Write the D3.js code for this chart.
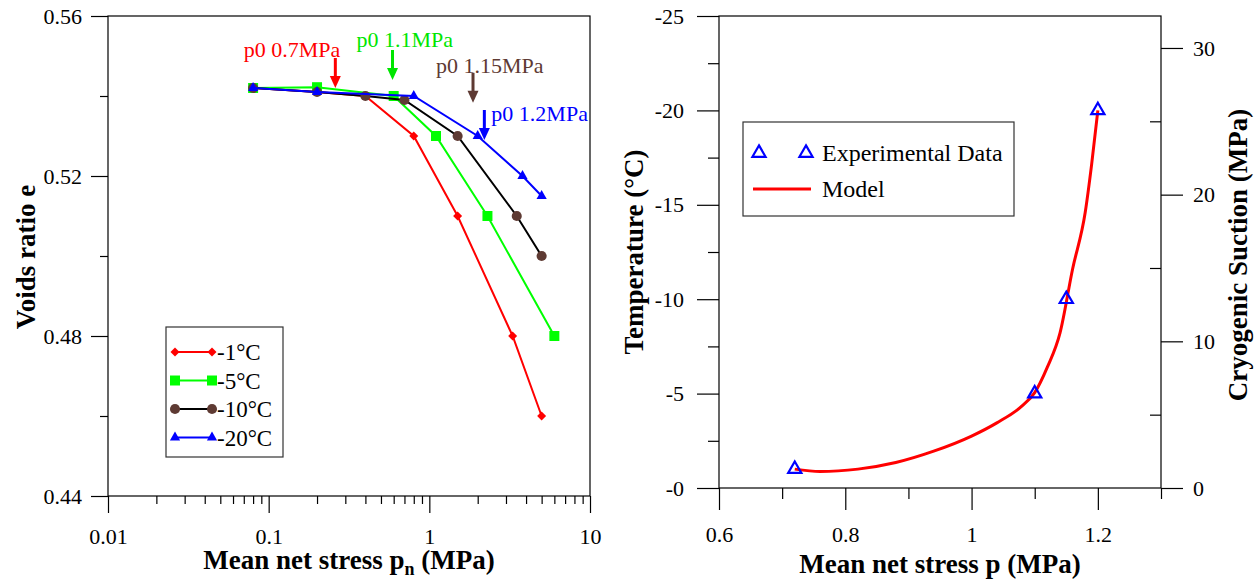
<!DOCTYPE html>
<html>
<head>
<meta charset="utf-8">
<script src="https://cdn.jsdelivr.net/npm/d3@7"></script>
<style>
  body { margin: 0; background: #fff; }
  svg text { font-family: "Liberation Serif", "Times New Roman", serif; }
</style>
</head>
<body>
<script>
// ---- left chart data: void ratio vs mean net stress ----
const series = ["-1°C", "-5°C", "-10°C", "-20°C"];
const p_m1 = [0.08, 0.2, 0.4, 0.8, 1.5, 3.3, 5];
const e_m1 = [0.542, 0.541, 0.540, 0.530, 0.510, 0.480, 0.460];
const p_m5 = [0.08, 0.2, 0.6, 1.1, 2.3, 6];
const e_m5 = [0.542, 0.5422, 0.540, 0.530, 0.510, 0.480];
const p_m10 = [0.08, 0.2, 0.4, 0.7, 1.5, 3.5, 5];
const e_m10 = [0.542, 0.541, 0.540, 0.539, 0.530, 0.510, 0.500];
const p_m20 = [0.08, 0.2, 0.8, 2, 3.8, 5];
const e_m20 = [0.542, 0.541, 0.540, 0.530, 0.520, 0.515];

// p0 annotations (arrow tip in data units)
const annotText = ["p0 0.7MPa", "p0 1.1MPa", "p0 1.15MPa", "p0 1.2MPa"];
const arrowP = [0.26, 0.59, 1.87, 2.2];
const arrowE = [0.542, 0.544, 0.5383, 0.529];

const xTicksL = [0.01, 0.1, 1, 10];
const xLabelsL = ["0.01", "0.1", "1", "10"];
const yTicksL = [0.44, 0.48, 0.52, 0.56];
const yLabelsL = ["0.44", "0.48", "0.52", "0.56"];

// ---- right chart data: temperature vs p0 ----
const expP = [0.72, 1.1, 1.15, 1.2];
const expT = [-1, -5, -10, -20];
const modelP = [0.72, 0.76, 0.82, 0.88, 0.94, 1.00, 1.04, 1.08, 1.10, 1.12, 1.14, 1.16, 1.18, 1.19, 1.20];
const modelT = [-1.0, -0.87, -1.0, -1.35, -1.95, -2.75, -3.45, -4.35, -5.05, -6.4, -8.2, -11.6, -14.6, -17.1, -20.0];

const xTicksR = [0.6, 0.8, 1.0, 1.2];
const xLabelsR = ["0.6", "0.8", "1", "1.2"];
const xMinorR = [0.7, 0.9, 1.1, 1.3];
const tTicks = [0, -5, -10, -15, -20, -25];
const tLabels = ["-0", "-5", "-10", "-15", "-20", "-25"];
const tMinor = [-2.5, -7.5, -12.5, -17.5, -22.5];
const sTicks = [0, 10, 20, 30];
const sLabels = ["0", "10", "20", "30"];
const sMinor = [5, 15, 25];

const FONT = '"Liberation Serif", "Times New Roman", serif';

const svg = d3.select("body").append("svg")
    .attr("width", 1260)
    .attr("height", 582)
    .attr("font-family", FONT);

function styleAxis(g, fontSize) {
    g.attr("font-family", FONT);
    g.select(".domain").remove();
    g.selectAll("line").attr("stroke", "#000").attr("stroke-width", 1.2);
    g.selectAll("text").attr("fill", "#000")
        .style("font-family", FONT)
        .style("font-size", fontSize + "px");
}

// ================= LEFT CHART =================
const xL = d3.scaleLog().domain([0.01, 10]).range([108, 590]);
const yL = d3.scaleLinear().domain([0.44, 0.56]).range([496, 16]);

let minorXL = [];
[0.01, 0.1, 1].forEach(function (dec) {
    for (let k = 2; k <= 9; k++) minorXL.push(dec * k);
});

svg.append("g").attr("transform", "translate(0,496)")
    .call(d3.axisBottom(xL).tickValues(xTicksL).tickFormat((d, i) => xLabelsL[i]).tickSize(17).tickPadding(15))
    .call(g => styleAxis(g, 22));
svg.append("g").attr("transform", "translate(0,496)")
    .call(d3.axisBottom(xL).tickValues(minorXL).tickFormat("").tickSize(8))
    .call(g => styleAxis(g, 22));
svg.append("g").attr("transform", "translate(108,0)")
    .call(d3.axisLeft(yL).tickValues(yTicksL).tickFormat((d, i) => yLabelsL[i]).tickSize(17).tickPadding(9))
    .call(g => styleAxis(g, 22));
svg.append("g").attr("transform", "translate(108,0)")
    .call(d3.axisLeft(yL).tickValues([0.46, 0.50, 0.54]).tickFormat("").tickSize(8))
    .call(g => styleAxis(g, 22));

svg.append("rect")
    .attr("x", xL.range()[0]).attr("y", yL.range()[1])
    .attr("width", xL.range()[1] - xL.range()[0])
    .attr("height", yL.range()[0] - yL.range()[1])
    .attr("fill", "none").attr("stroke", "#000").attr("stroke-width", 1.2);

// custom diamond symbol (rotated square look)
const diamondSym = {
    draw: function (ctx, size) {
        const r = Math.sqrt(size / 2);
        ctx.moveTo(0, -r); ctx.lineTo(r, 0); ctx.lineTo(0, r); ctx.lineTo(-r, 0); ctx.closePath();
    }
};

const seriesStyle = [
    { p: p_m1, e: e_m1, line: "#ff0000", mark: "#ff0000", sym: diamondSym, size: 40 },
    { p: p_m5, e: e_m5, line: "#00ff00", mark: "#00ff00", sym: d3.symbolSquare, size: 100 },
    { p: p_m10, e: e_m10, line: "#000000", mark: "#5e3a33", sym: d3.symbolCircle, size: 80 },
    { p: p_m20, e: e_m20, line: "#0000ff", mark: "#0000ff", sym: d3.symbolTriangle, size: 45 }
];

const lineL = d3.line().x(d => xL(d[0])).y(d => yL(d[1]));

seriesStyle.forEach(function (s) {
    const pts = s.p.map((v, i) => [v, s.e[i]]);
    svg.append("path")
        .attr("d", lineL(pts))
        .attr("fill", "none")
        .attr("stroke", s.line)
        .attr("stroke-width", 2);
    svg.selectAll(null)
        .data(pts)
        .enter()
        .append("path")
        .attr("transform", d => "translate(" + xL(d[0]) + "," + yL(d[1]) + ")")
        .attr("d", d3.symbol().type(s.sym).size(s.size))
        .attr("fill", s.mark);
});

// p0 arrows + labels
const annotColor = ["#ff0000", "#00e600", "#5e3a33", "#0000ff"];
// text offset from arrow top: [dx, dy, anchor]
const annotOffset = [[5, -1, "end"], [-36, -3, "start"], [-37, 0, "start"], [7, 11, "start"]];
const arrowLen = 30;

annotText.forEach(function (t, i) {
    const ax = xL(arrowP[i]);
    const tipY = yL(arrowE[i]);
    const topY = tipY - arrowLen;
    svg.append("line")
        .attr("x1", ax).attr("x2", ax)
        .attr("y1", topY).attr("y2", tipY - 10)
        .attr("stroke", annotColor[i]).attr("stroke-width", 3);
    svg.append("path")
        .attr("d", "M" + (ax - 5.5) + "," + (tipY - 12) + "L" + (ax + 5.5) + "," + (tipY - 12) + "L" + ax + "," + tipY + "Z")
        .attr("fill", annotColor[i]);
    svg.append("text")
        .attr("x", ax + annotOffset[i][0])
        .attr("y", topY + annotOffset[i][1])
        .attr("text-anchor", annotOffset[i][2])
        .attr("fill", annotColor[i])
        .style("font-size", "22px")
        .text(t);
});

// left legend
const legL = svg.append("g");
legL.append("rect")
    .attr("x", 166).attr("y", 327).attr("width", 117).attr("height", 130)
    .attr("fill", "#fff").attr("stroke", "#333").attr("stroke-width", 1.2);
seriesStyle.forEach(function (s, i) {
    const ly = 352 + i * 28.5;
    legL.append("line")
        .attr("x1", 175).attr("x2", 212).attr("y1", ly).attr("y2", ly)
        .attr("stroke", s.line).attr("stroke-width", 2);
    [175, 212].forEach(function (lx) {
        legL.append("path")
            .attr("transform", "translate(" + lx + "," + ly + ")")
            .attr("d", d3.symbol().type(s.sym).size(s.size))
            .attr("fill", s.mark);
    });
    legL.append("text")
        .attr("x", 217).attr("y", ly).attr("dy", "0.35em")
        .style("font-size", "23px")
        .text(series[i]);
});

// left titles
svg.append("text")
    .attr("transform", "translate(35,257) rotate(-90)")
    .attr("text-anchor", "middle")
    .style("font-size", "27px").style("font-weight", "bold")
    .text("Voids ratio e");

const xtL = svg.append("text")
    .attr("x", 349).attr("y", 569)
    .attr("text-anchor", "middle")
    .style("font-size", "27px").style("font-weight", "bold");
xtL.append("tspan").text("Mean net stress p");
xtL.append("tspan").attr("dy", 6).style("font-size", "18px").text("n");
xtL.append("tspan").attr("dy", -6).text(" (MPa)");

// ================= RIGHT CHART =================
const xR = d3.scaleLinear().domain([0.6, 1.3]).range([719, 1161]);
const yR = d3.scaleLinear().domain([0, -25]).range([488, 16]);
const yS = d3.scaleLinear().domain([0, 32.18]).range([488, 16]);

svg.append("g").attr("transform", "translate(0,488)")
    .call(d3.axisBottom(xR).tickValues(xTicksR).tickFormat((d, i) => xLabelsR[i]).tickSize(22).tickPadding(16))
    .call(g => styleAxis(g, 22));
svg.append("g").attr("transform", "translate(0,488)")
    .call(d3.axisBottom(xR).tickValues(xMinorR).tickFormat("").tickSize(11))
    .call(g => styleAxis(g, 22));
svg.append("g").attr("transform", "translate(719,0)")
    .call(d3.axisLeft(yR).tickValues(tTicks).tickFormat((d, i) => tLabels[i]).tickSize(22).tickPadding(13))
    .call(g => styleAxis(g, 22));
svg.append("g").attr("transform", "translate(719,0)")
    .call(d3.axisLeft(yR).tickValues(tMinor).tickFormat("").tickSize(11))
    .call(g => styleAxis(g, 22));
svg.append("g").attr("transform", "translate(1161,0)")
    .call(d3.axisRight(yS).tickValues(sTicks).tickFormat((d, i) => sLabels[i]).tickSize(22).tickPadding(10))
    .call(g => styleAxis(g, 22));
svg.append("g").attr("transform", "translate(1161,0)")
    .call(d3.axisLeft(yS).tickValues(sMinor).tickFormat("").tickSize(11))
    .call(g => styleAxis(g, 22));

svg.append("rect")
    .attr("x", 719).attr("y", 16)
    .attr("width", 1161 - 719).attr("height", 488 - 16)
    .attr("fill", "none").attr("stroke", "#000").attr("stroke-width", 1.2);

const modelLine = d3.line()
    .x(d => xR(d[0])).y(d => yR(d[1]))
    .curve(d3.curveMonotoneX);

svg.append("path")
    .attr("d", modelLine(modelP.map((v, i) => [v, modelT[i]])))
    .attr("fill", "none")
    .attr("stroke", "#ff0000")
    .attr("stroke-width", 3);

const triOpen = d3.symbol().type(d3.symbolTriangle).size(75);
svg.selectAll(null)
    .data(expP.map((v, i) => [v, expT[i]]))
    .enter()
    .append("path")
    .attr("transform", d => "translate(" + xR(d[0]) + "," + yR(d[1]) + ")")
    .attr("d", triOpen)
    .attr("fill", "none")
    .attr("stroke", "#0000ff")
    .attr("stroke-width", 2.2);

// right legend
const legR = svg.append("g");
legR.append("rect")
    .attr("x", 743).attr("y", 122).attr("width", 271).attr("height", 94)
    .attr("fill", "#fff").attr("stroke", "#333").attr("stroke-width", 1.2);
[759, 806].forEach(function (lx) {
    legR.append("path")
        .attr("transform", "translate(" + lx + ",153)")
        .attr("d", triOpen)
        .attr("fill", "none").attr("stroke", "#0000ff").attr("stroke-width", 2.2);
});
legR.append("text").attr("x", 822).attr("y", 153).attr("dy", "0.35em")
    .style("font-size", "24px").text("Experimental Data");
legR.append("line")
    .attr("x1", 753).attr("x2", 811).attr("y1", 189).attr("y2", 189)
    .attr("stroke", "#ff0000").attr("stroke-width", 3);
legR.append("text").attr("x", 822).attr("y", 189).attr("dy", "0.35em")
    .style("font-size", "24px").text("Model");

// right titles
svg.append("text")
    .attr("transform", "translate(643,252) rotate(-90)")
    .attr("text-anchor", "middle")
    .style("font-size", "27px").style("font-weight", "bold")
    .text("Temperature (°C)");
svg.append("text")
    .attr("transform", "translate(1247,255) rotate(-90)")
    .attr("text-anchor", "middle")
    .style("font-size", "27px").style("font-weight", "bold")
    .text("Cryogenic Suction (MPa)");
svg.append("text")
    .attr("x", 940).attr("y", 573)
    .attr("text-anchor", "middle")
    .style("font-size", "27px").style("font-weight", "bold")
    .text("Mean net stress p (MPa)");
</script>
</body>
</html>
